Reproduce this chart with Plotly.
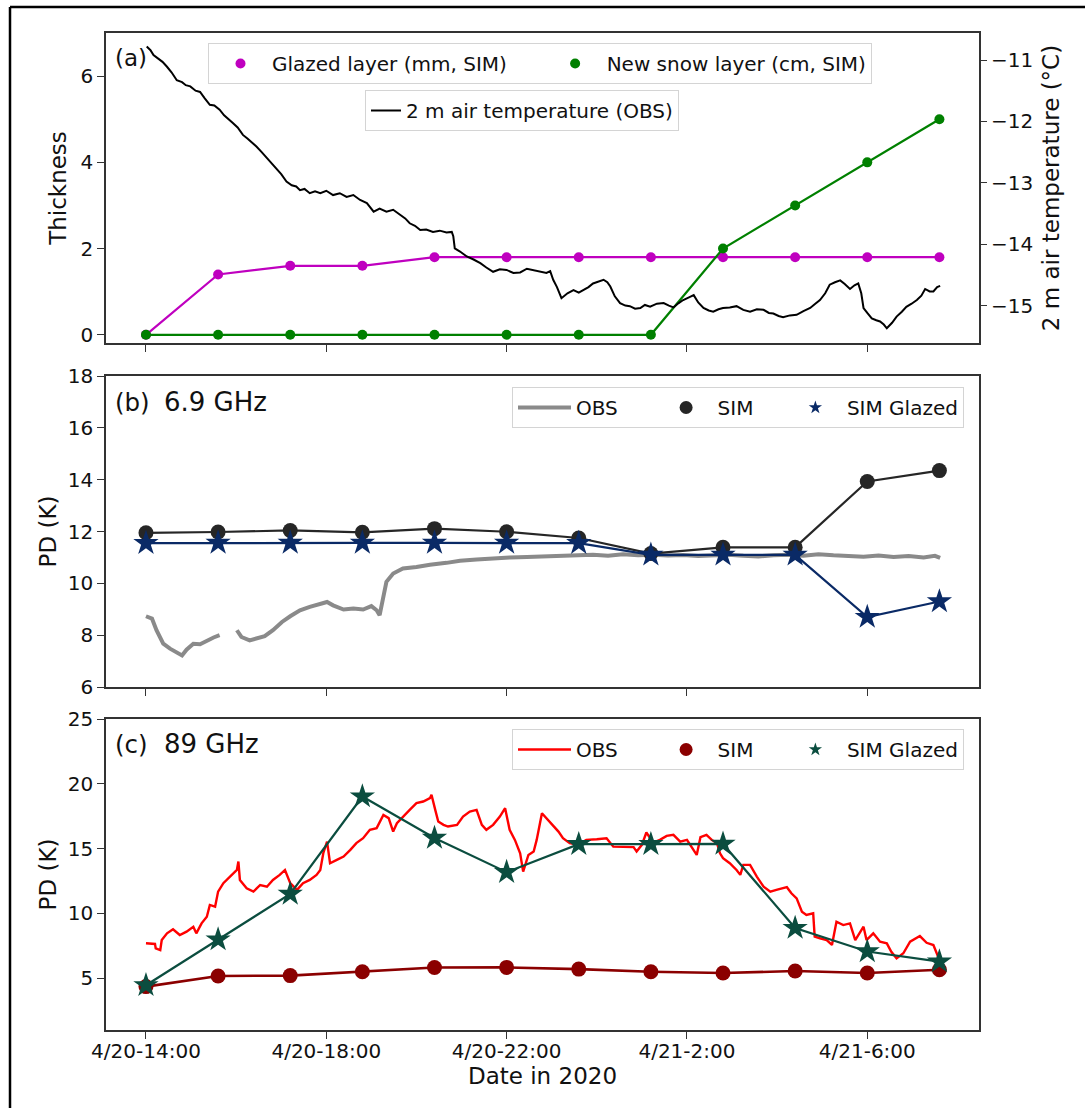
import plotly.graph_objects as go
import pandas as pd

# ---------------- data ----------------
BASE = pd.Timestamp("2020-04-20 14:00")

sim_times = ["2020-04-20 14:00", "2020-04-20 15:36", "2020-04-20 17:12", "2020-04-20 18:48",
             "2020-04-20 20:24", "2020-04-20 22:00", "2020-04-20 23:36", "2020-04-21 01:12",
             "2020-04-21 02:48", "2020-04-21 04:24", "2020-04-21 06:00", "2020-04-21 07:36"]

glazed_mm = [0, 1.4, 1.6, 1.6, 1.8, 1.8, 1.8, 1.8, 1.8, 1.8, 1.8, 1.8]
newsnow_cm = [0, 0, 0, 0, 0, 0, 0, 0, 2, 3, 4, 5]

sim_69 = [11.95, 11.98, 12.04, 11.97, 12.11, 11.99, 11.75, 11.15, 11.39, 11.39, 13.93, 14.35]
sim_69_glazed = [11.55, 11.56, 11.56, 11.56, 11.56, 11.56, 11.55, 11.1, 11.1, 11.1, 8.7, 9.3]

sim_89 = [4.35, 5.17, 5.2, 5.5, 5.82, 5.83, 5.7, 5.5, 5.4, 5.55, 5.4, 5.65]
sim_89_glazed = [4.45, 7.98, 11.5, 19.02, 15.82, 13.18, 15.34, 15.34, 15.36, 8.87, 7.06, 6.28]

# 2 m air temperature (minutes after 4/20-14:00, deg C)
temp_min = [1, 6, 10, 16, 22, 28, 34, 41, 48, 53, 59, 66, 72, 78, 85, 91, 98, 104, 110, 116,
            122, 129, 135, 141, 147, 154, 161, 167, 174, 180, 187, 194, 200, 205, 211, 218, 225,
            232, 240, 249, 258, 267, 276, 285, 294, 303, 311, 320, 329, 338, 345, 351, 358, 365,
            373, 382, 391, 400, 407, 409, 411, 418, 427, 436, 445, 453, 462, 471, 480, 489, 498,
            507, 516, 524, 533, 538, 542, 547, 553, 561, 569, 576, 582, 589, 595, 602, 609, 614,
            618, 624, 631, 638, 644, 651, 658, 664, 671, 680, 689, 696, 702, 709, 715, 722, 729,
            735, 742, 749, 755, 762, 768, 777, 786, 795, 804, 813, 822, 829, 835, 842, 848, 857,
            866, 875, 884, 890, 897, 904, 910, 917, 924, 930, 937, 943, 948, 952, 955, 960, 966,
            972, 977, 982, 986, 993, 999, 1006, 1012, 1019, 1026, 1032, 1037, 1043, 1048, 1053,
            1057]
temp_val = [-10.78, -10.84, -10.92, -10.98, -11.03, -11.11, -11.20, -11.33, -11.36, -11.41,
            -11.43, -11.50, -11.52, -11.62, -11.73, -11.74, -11.81, -11.90, -11.96, -12.03,
            -12.10, -12.22, -12.28, -12.34, -12.41, -12.50, -12.60, -12.68, -12.79, -12.86,
            -12.98, -13.04, -13.06, -13.12, -13.10, -13.17, -13.14, -13.17, -13.13, -13.20,
            -13.17, -13.23, -13.20, -13.28, -13.33, -13.47, -13.42, -13.47, -13.44, -13.52,
            -13.58, -13.66, -13.70, -13.77, -13.76, -13.80, -13.78, -13.81, -13.80, -13.87,
            -14.07, -14.12, -14.20, -14.25, -14.31, -14.38, -14.45, -14.41, -14.42, -14.47,
            -14.46, -14.40, -14.42, -14.45, -14.47, -14.44, -14.58, -14.70, -14.88, -14.80,
            -14.75, -14.79, -14.75, -14.70, -14.64, -14.61, -14.58, -14.62, -14.69, -14.85,
            -14.96, -15.00, -15.01, -15.05, -15.04, -14.99, -15.02, -14.97, -14.96, -15.00,
            -15.03, -14.96, -14.91, -14.87, -14.83, -14.95, -15.04, -15.08, -15.10, -15.06,
            -15.04, -15.03, -15.01, -15.07, -15.10, -15.06, -15.07, -15.12, -15.13, -15.17,
            -15.19, -15.16, -15.15, -15.09, -15.04, -14.98, -14.91, -14.80, -14.66, -14.62,
            -14.59, -14.65, -14.73, -14.67, -14.64, -14.80, -15.04, -15.12, -15.21, -15.24,
            -15.26, -15.31, -15.37, -15.28, -15.18, -15.10, -15.02, -14.97, -14.91, -14.84,
            -14.73, -14.77, -14.77, -14.70, -14.68]

# OBS PD at 6.9 GHz (minutes, K); None marks a data gap
obs69_min = [0, 8, 14, 23, 32, 41, 48, 54, 63, 72, 81, 90, 98, 110, 121, 127, 138, 147, 158,
             169, 181, 192, 205, 218, 232, 241, 249, 263, 276, 289, 300, 307, 311, 316, 320, 329,
             342, 360, 378, 400, 418, 440, 462, 484, 507, 533, 555, 575, 595, 615, 635, 655, 675,
             695, 715, 735, 755, 775, 795, 815, 835, 855, 875, 895, 915, 935, 955, 975, 995,
             1015, 1035, 1050, 1057]
obs69_val = [8.73, 8.64, 8.19, 7.67, 7.48, 7.35, 7.22, 7.44, 7.67, 7.65, 7.80, 7.91, 8.00, None,
             8.19, 7.93, 7.80, 7.87, 7.96, 8.19, 8.51, 8.73, 8.96, 9.09, 9.19, 9.28, 9.15, 8.99,
             9.03, 8.99, 9.12, 8.96, 8.77, 9.61, 10.06, 10.38, 10.57, 10.63, 10.72, 10.79, 10.87,
             10.92, 10.97, 11.00, 11.02, 11.05, 11.05, 11.08, 11.10, 11.06, 11.12, 11.08, 11.10,
             11.07, 11.09, 11.05, 11.08, 11.10, 11.06, 11.04, 11.08, 11.10, 11.06, 11.12, 11.08,
             11.05, 11.03, 11.07, 11.02, 11.05, 11.00, 11.06, 10.98]

# OBS PD at 89 GHz (minutes, K)
obs89_min = [0, 12, 13, 19, 21, 28, 36, 45, 54, 63, 67, 74, 81, 85, 92, 96, 103, 110, 116, 121,
             123, 125, 134, 143, 152, 161, 169, 178, 185, 192, 201, 209, 218, 227, 232, 236, 241,
             245, 254, 263, 272, 280, 289, 298, 307, 316, 323, 329, 334, 342, 351, 360, 369, 378,
             380, 385, 389, 396, 402, 414, 422, 431, 440, 447, 453, 462, 471, 478, 484, 491, 498,
             502, 509, 516, 520, 527, 535, 542, 549, 555, 564, 575, 586, 600, 613, 622, 635, 649,
             653, 660, 666, 675, 684, 693, 702, 711, 720, 729, 733, 738, 746, 753, 760, 764, 768,
             777, 786, 791, 795, 804, 813, 822, 831, 839, 853, 859, 866, 873, 879, 888, 890, 897,
             906, 913, 919, 928, 937, 944, 950, 955, 959, 968, 977, 986, 992, 999, 1008, 1017,
             1030, 1039, 1048, 1055, 1057]
obs89_val = [7.69, 7.64, 7.30, 7.17, 7.94, 8.46, 8.77, 8.33, 8.59, 8.97, 8.46, 9.23, 9.74, 10.65,
             10.52, 11.68, 12.33, 12.71, 13.10, 13.35, 14.00, 12.58, 11.94, 11.68, 12.19, 12.06,
             12.58, 12.97, 13.35, 12.33, 11.81, 12.33, 12.58, 12.97, 13.35, 14.64, 15.54, 13.87,
             14.13, 14.38, 14.90, 15.42, 15.80, 16.45, 16.58, 17.60, 17.35, 16.31, 16.96, 17.47,
             17.99, 18.51, 18.63, 18.89, 19.15, 17.99, 17.09, 16.83, 16.70, 16.83, 17.47, 17.86,
             17.99, 16.83, 16.45, 16.83, 17.47, 18.12, 16.45, 15.67, 14.64, 13.22, 14.51, 14.77,
             15.67, 17.73, 17.22, 16.83, 16.31, 15.80, 15.42, 15.29, 15.67, 15.72, 15.80, 15.15,
             15.11, 15.11, 14.77, 15.29, 16.24, 15.46, 15.67, 15.98, 16.06, 15.54, 15.67, 14.90,
             14.51, 15.88, 16.06, 15.67, 15.42, 14.64, 14.26, 13.87, 13.35, 12.97, 13.74, 13.74,
             12.84, 12.06, 11.68, 11.81, 12.02, 11.55, 11.16, 10.13, 9.88, 10.01, 8.20, 8.08,
             7.94, 7.56, 9.36, 9.10, 9.23, 7.94, 8.46, 8.97, 7.94, 8.46, 7.81, 7.69, 7.04, 6.53,
             6.92, 7.81, 8.25, 7.73, 7.56, 6.65, 6.27]

tick_vals = ["2020-04-20 14:00", "2020-04-20 18:00", "2020-04-20 22:00",
             "2020-04-21 02:00", "2020-04-21 06:00"]
tick_text = ["4/20-14:00", "4/20-18:00", "4/20-22:00", "4/21-2:00", "4/21-6:00"]


def to_time(mins):
    return [BASE + pd.Timedelta(minutes=m) for m in mins]


NB = "\u00a0"

# ---------------- style ----------------
FONT = "DejaVu Sans"
AX = "#333333"
C_MAG = "#bf00bf"
C_GRN = "#008000"
C_SIM69 = "#262626"
C_GL69 = "#0a2a66"
C_SIM89 = "#8b0000"
C_GL89 = "#0b4d3f"

fig = go.Figure()

# ---- panel (a) ----
fig.add_trace(go.Scatter(x=sim_times, y=glazed_mm, mode="lines+markers", showlegend=False,
                         line=dict(color=C_MAG, width=2.2), marker=dict(color=C_MAG, size=10),
                         xaxis="x3", yaxis="y3"))
fig.add_trace(go.Scatter(x=sim_times, y=newsnow_cm, mode="lines+markers", showlegend=False,
                         line=dict(color=C_GRN, width=2.2), marker=dict(color=C_GRN, size=10),
                         xaxis="x3", yaxis="y3"))
fig.add_trace(go.Scatter(x=[None], y=[None], mode="markers",
                         name="Glazed layer (mm, SIM)" + NB * 5,
                         marker=dict(color=C_MAG, size=10), legend="legend",
                         xaxis="x3", yaxis="y3"))
fig.add_trace(go.Scatter(x=[None], y=[None], mode="markers", name="New snow layer (cm, SIM)",
                         marker=dict(color=C_GRN, size=10), legend="legend",
                         xaxis="x3", yaxis="y3"))
fig.add_trace(go.Scatter(x=to_time(temp_min), y=temp_val, mode="lines",
                         name="2 m air temperature (OBS)", legend="legend2",
                         line=dict(color="black", width=2), xaxis="x3", yaxis="y4"))

# ---- panel (b) ----
fig.add_trace(go.Scatter(x=to_time(obs69_min), y=obs69_val, mode="lines", name="OBS" + NB * 5,
                         legend="legend3", connectgaps=False,
                         line=dict(color="#8a8a8a", width=4), xaxis="x2", yaxis="y2"))
fig.add_trace(go.Scatter(x=sim_times, y=sim_69, mode="lines+markers", showlegend=False,
                         line=dict(color=C_SIM69, width=2.2),
                         marker=dict(color=C_SIM69, size=15), xaxis="x2", yaxis="y2"))
fig.add_trace(go.Scatter(x=sim_times, y=sim_69_glazed, mode="lines+markers", showlegend=False,
                         line=dict(color=C_GL69, width=2.2),
                         marker=dict(color=C_GL69, size=19, symbol="star"),
                         xaxis="x2", yaxis="y2"))
fig.add_trace(go.Scatter(x=[None], y=[None], mode="markers", name="SIM" + NB * 4,
                         legend="legend3", marker=dict(color=C_SIM69, size=13),
                         xaxis="x2", yaxis="y2"))
fig.add_trace(go.Scatter(x=[None], y=[None], mode="markers", name="SIM Glazed", legend="legend3",
                         marker=dict(color=C_GL69, size=10, symbol="star"),
                         xaxis="x2", yaxis="y2"))

# ---- panel (c) ----
fig.add_trace(go.Scatter(x=to_time(obs89_min), y=obs89_val, mode="lines", name="OBS" + NB * 5,
                         legend="legend4", line=dict(color="#ff0000", width=2.4),
                         xaxis="x", yaxis="y"))
fig.add_trace(go.Scatter(x=sim_times, y=sim_89, mode="lines+markers", showlegend=False,
                         line=dict(color=C_SIM89, width=2.6),
                         marker=dict(color=C_SIM89, size=15), xaxis="x", yaxis="y"))
fig.add_trace(go.Scatter(x=sim_times, y=sim_89_glazed, mode="lines+markers", showlegend=False,
                         line=dict(color=C_GL89, width=2.2),
                         marker=dict(color=C_GL89, size=19, symbol="star"),
                         xaxis="x", yaxis="y"))
fig.add_trace(go.Scatter(x=[None], y=[None], mode="markers", name="SIM" + NB * 4,
                         legend="legend4", marker=dict(color=C_SIM89, size=13),
                         xaxis="x", yaxis="y"))
fig.add_trace(go.Scatter(x=[None], y=[None], mode="markers", name="SIM Glazed", legend="legend4",
                         marker=dict(color=C_GL89, size=10, symbol="star"),
                         xaxis="x", yaxis="y"))

# ---------------- layout ----------------
W, H = 1085, 1108
L, R, T, B = 106, 106, 33, 78
PW, PH = W - L - R, H - T - B


def py(px):  # pixel row -> paper y
    return (H - B - px) / PH


def px_(p):  # pixel col -> paper x
    return (p - L) / PW


x_range = ["2020-04-20 13:06:48", "2020-04-21 08:28:42"]
tickfont = dict(family=FONT, size=20, color="#111111")
titlefont = dict(family=FONT, size=23, color="#111111")

xcommon = dict(type="date", range=x_range, tickmode="array", tickvals=tick_vals,
               ticktext=tick_text, ticks="outside", ticklen=7, tickwidth=1.3, tickcolor=AX,
               showline=True, linecolor=AX, linewidth=1.5, mirror=True, showgrid=False,
               zeroline=False, tickfont=tickfont)
ycommon = dict(ticks="outside", ticklen=7, tickwidth=1.3, tickcolor=AX, showline=True,
               linecolor=AX, linewidth=1.5, mirror=True, showgrid=False, zeroline=False,
               tickfont=tickfont)

legcommon = dict(orientation="h", bgcolor="rgba(255,255,255,0.85)", bordercolor="#d4d4d4",
                 borderwidth=1, font=dict(family=FONT, size=20, color="#111111"),
                 xanchor="left", yanchor="top", xref="paper", yref="paper")


def label(text, xpx, ypx, size):
    return dict(text=text, x=px_(xpx), y=py(ypx), xref="paper", yref="paper", xanchor="left",
                yanchor="middle", showarrow=False,
                font=dict(family=FONT, size=size, color="#111111"))


fig.update_layout(
    width=W, height=H, autosize=False,
    margin=dict(l=L, r=R, t=T, b=B),
    paper_bgcolor="white", plot_bgcolor="white",
    font=dict(family=FONT, size=20, color="#111111"),
    xaxis=dict(domain=[0, 1], anchor="y", ticklabelstandoff=-5,
               title=dict(text="Date in 2020", font=titlefont, standoff=3), **xcommon),
    xaxis2=dict(domain=[0, 1], anchor="y2", matches="x", showticklabels=False, **xcommon),
    xaxis3=dict(domain=[0, 1], anchor="y3", matches="x", showticklabels=False, **xcommon),
    yaxis=dict(domain=[0, py(719)], anchor="x", range=[1, 25], tickvals=[5, 10, 15, 20, 25],
               title=dict(text="PD (K)", font=titlefont, standoff=5), **ycommon),
    yaxis2=dict(domain=[py(687), py(376)], anchor="x2", range=[6, 18],
                tickvals=[6, 8, 10, 12, 14, 16, 18],
                title=dict(text="PD (K)", font=titlefont, standoff=5), **ycommon),
    yaxis3=dict(domain=[py(343), 1], anchor="x3", range=[-0.19, 7.0], tickvals=[0, 2, 4, 6],
                title=dict(text="Thickness", font=titlefont, standoff=7), **ycommon),
    yaxis4=dict(overlaying="y3", anchor="x3", side="right", range=[-15.61, -10.56],
                tickvals=[-15, -14, -13, -12, -11], ticks="outside", ticklen=7, tickwidth=1.3,
                tickcolor=AX, showline=False, showgrid=False, zeroline=False, tickfont=tickfont,
                title=dict(text="2 m air temperature (°C)", font=titlefont, standoff=10)),
    legend=dict(x=px_(208), y=py(43), itemwidth=53, **legcommon),
    legend2=dict(x=px_(365), y=py(90), **legcommon),
    legend3=dict(x=px_(512), y=py(387), itemwidth=53, **legcommon),
    legend4=dict(x=px_(512), y=py(729), itemwidth=53, **legcommon),
    annotations=[
        label("(a)", 113, 58, 23),
        label("(b)", 113, 402, 24.5),
        label("6.9 GHz", 162, 402, 26),
        label("(c)", 113, 744, 24.5),
        label("89 GHz", 162, 744, 26),
    ],
    shapes=[
        dict(type="line", xref="paper", yref="paper", x0=px_(10), x1=px_(1085), y0=py(7),
             y1=py(7), line=dict(color="black", width=2.5)),
        dict(type="line", xref="paper", yref="paper", x0=px_(10), x1=px_(10), y0=py(7),
             y1=py(1108), line=dict(color="black", width=2.5)),
    ],
)

fig.write_html("out.html", config={"displayModeBar": False},
               post_script="document.body.style.margin='0px';")
